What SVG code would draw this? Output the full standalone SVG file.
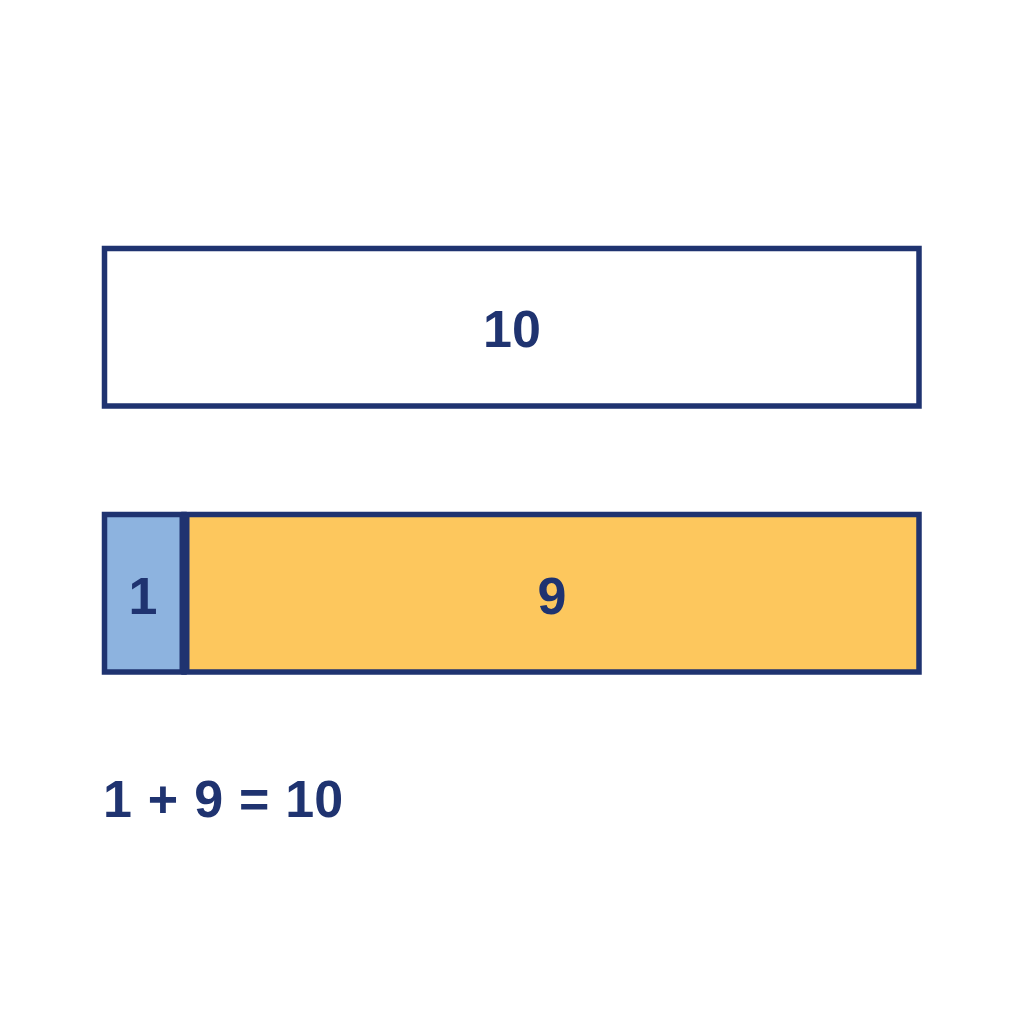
<svg xmlns="http://www.w3.org/2000/svg" width="1024" height="1024" viewBox="0 0 1024 1024">
<style>
.box{stroke:#1F3370;stroke-width:5.5;}
.t{font-family:"Liberation Sans",Arial,sans-serif;font-weight:bold;font-size:52px;fill:#1F3370;}
</style>
<rect width="1024" height="1024" fill="#FFFFFF"/>
<g id="whole">
<rect class="box" x="104.5" y="248.5" width="814.5" height="157.5" fill="#FFFFFF"/>
<text class="t" x="512" y="347" text-anchor="middle">10</text>
</g>
<g id="part-one">
<rect class="box" x="104.5" y="514.5" width="79.5" height="157.5" fill="#8DB3DF"/>
<text class="t" x="143" y="614" text-anchor="middle">1</text>
</g>
<g id="part-nine">
<rect class="box" x="184" y="514.5" width="735" height="157.5" fill="#FDC75D"/>
<line x1="184.5" y1="514.5" x2="184.5" y2="672" stroke="#1F3370" stroke-width="10"/>
<text class="t" x="552" y="614" text-anchor="middle">9</text>
</g>
<g id="equation">
<text class="t" x="103" y="817" word-spacing="1.5">1 + 9 = 10</text>
</g>
</svg>
